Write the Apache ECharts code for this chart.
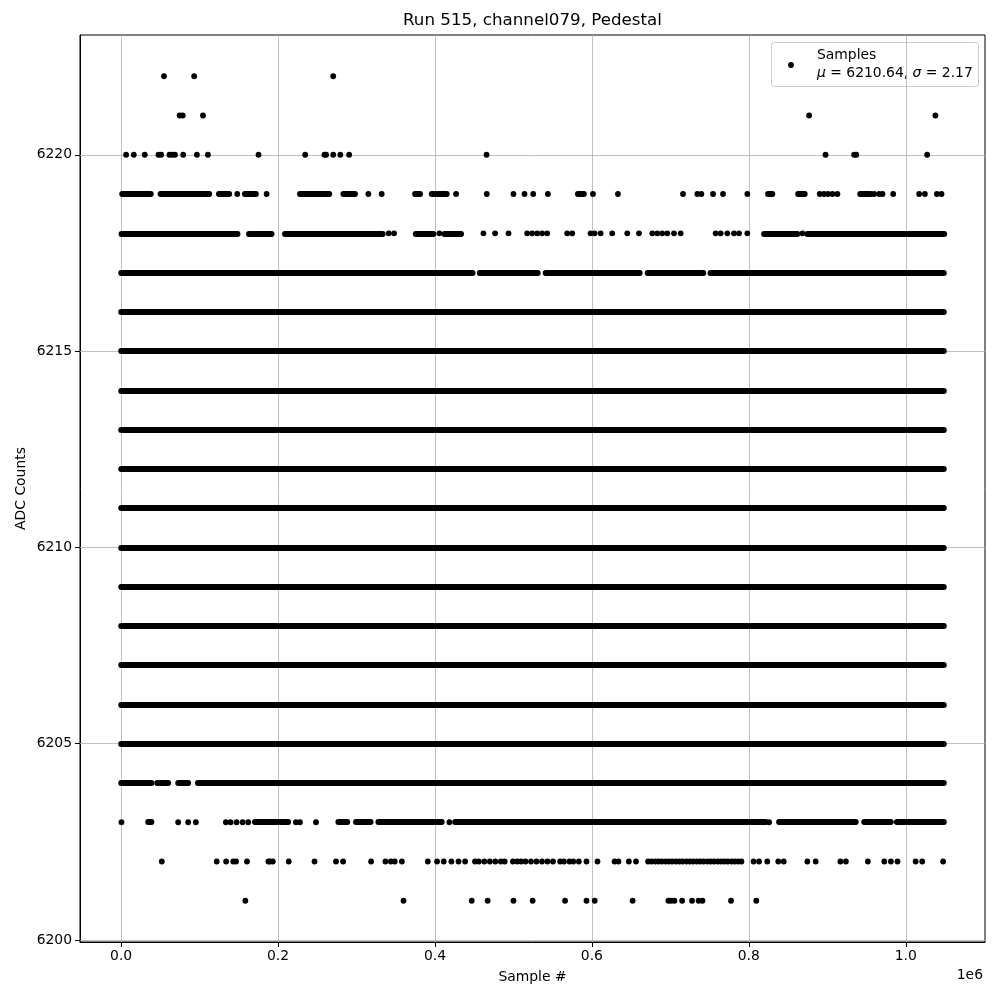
<!DOCTYPE html>
<html><head><meta charset="utf-8">
<script src="https://cdn.jsdelivr.net/npm/echarts@6/dist/echarts.min.js"></script>
<style>html,body{margin:0;padding:0;background:#fff}#chart{width:1000px;height:1000px}</style>
</head><body><div id="chart"></div>
<script>
const titleText = 'Run 515, channel079, Pedestal';
const xLabel = 'Sample #';
const yLabel = 'ADC Counts';
const xOffsetText = '1e6';
const seriesName = 'Samples';
const meanValue = 6210.64;
const sigmaValue = 2.17;
const xTickValues = [0, 200000, 400000, 600000, 800000, 1000000];
const yTickValues = [6200, 6205, 6210, 6215, 6220];
const xRange = [-52429, 1101004];
const yRange = [6199.95, 6223.05];
const lastSample = 1048575;

// ADC levels whose samples cover the whole run
const solidLevels = [6205, 6206, 6207, 6208, 6209, 6210, 6211, 6212, 6213, 6214, 6215, 6216];
// dense stretches [from, to] (sample index) on the partly filled levels
const runs6217 = [[0, 448000], [457000, 531000], [541000, 661000], [671000, 742000], [751000, 1048575]];
const runs6218 = [[400, 148400], [162900, 191800], [208800, 333400], [375500, 398000], [412000, 433300], [819400, 861900], [874700, 1049000]];
const runs6219 = [[1300, 37800], [50200, 112300], [124600, 137800], [157700, 171800], [227900, 265300], [283200, 298100], [374600, 381000], [395900, 415000], [582100, 589800], [824500, 830000], [862800, 871300], [941900, 955500]];
const runs6204 = [[0, 38700], [45900, 60000], [72700, 85500], [97800, 1048575]];
const runs6203 = [[34400, 38700], [170500, 213000], [276800, 288300], [299300, 318000], [327800, 408600], [425600, 821500], [838500, 936300], [947000, 981000], [988600, 1048575]];

// isolated samples per level (sample index)
const pts6222 = [54600, 93100, 270300];
const pts6221 = [74600, 78500, 104300, 876800, 1037800];
const pts6220 = [6300, 16100, 30100, 47600, 51100, 61600, 65100, 68600, 79100, 96600, 110600, 175100, 234600, 259100, 261200, 270300, 279400, 290600, 465700, 897800, 934200, 937000, 1027300];
const pts6219 = [148000, 185400, 315100, 332100, 426900, 466000, 500000, 514100, 525200, 543900, 601300, 633200, 716100, 734400, 739500, 754400, 767100, 798100, 890400, 895900, 901000, 906600, 912900, 959700, 966100, 970400, 984000, 1017100, 1024400, 1039700, 1045600];
const pts6218 = [341000, 347800, 405600, 461800, 476600, 493700, 517500, 523900, 530300, 536600, 543000, 568500, 574900, 598300, 603400, 611100, 625900, 645100, 660000, 677000, 683300, 689700, 696100, 704600, 713100, 757700, 764100, 772600, 781100, 787500, 798100, 868300];
const pts6203 = [400, 72700, 85500, 95200, 133500, 139500, 147100, 154800, 162000, 222800, 227900, 248300, 418400, 825800];
const pts6202 = [51800, 121800, 133800, 142900, 146400, 160400, 187700, 189800, 193300, 213600, 246500, 273800, 282900, 318600, 336800, 343800, 348700, 357800, 390800, 402700, 411100, 420900, 430000, 438400, 451000, 455900, 462900, 469900, 476900, 483900, 488800, 499300, 504900, 509800, 515400, 522400, 529400, 536400, 543400, 550400, 559500, 564400, 571400, 576300, 583300, 593100, 607100, 628900, 633800, 647100, 656200, 671600, 675800, 680700, 684900, 689100, 694000, 698200, 702400, 707300, 711500, 715700, 720600, 724800, 729000, 733900, 738100, 742300, 747200, 751400, 755600, 760500, 764700, 768900, 773100, 778000, 782200, 786400, 790600, 806000, 813000, 823500, 837500, 844500, 874600, 885200, 916700, 923700, 951700, 972700, 981100, 989500, 1012600, 1021000, 1047600];
const pts6201 = [158300, 359900, 446800, 467100, 500000, 524500, 565800, 593100, 603600, 651900, 697500, 701000, 705200, 715000, 727600, 736000, 740900, 777300, 809500];

// ---- build library data ----
const runLines = [];
solidLevels.forEach(v => runLines.push({coords: [[0, v], [lastSample, v]]}));
[[6217, runs6217], [6218, runs6218], [6219, runs6219], [6204, runs6204], [6203, runs6203]].forEach(([v, rs]) => {
  rs.forEach(r => runLines.push({coords: [[r[0], v], [r[1], v]]}));
});
const points = [];
[[6222, pts6222], [6221, pts6221], [6220, pts6220], [6219, pts6219], [6218, pts6218], [6203, pts6203], [6202, pts6202], [6201, pts6201]].forEach(([v, xs]) => {
  xs.forEach(x => points.push([x, v]));
});
const gridLines = [];
xTickValues.forEach(x => gridLines.push({coords: [[x, yRange[0]], [x, yRange[1]]]}));
yTickValues.forEach(y => gridLines.push({coords: [[xRange[0], y], [xRange[1], y]]}));

const FONT = 'DejaVu Sans';
const MS = 5.8;
const chart = echarts.init(document.getElementById('chart'), null, {renderer: 'canvas'});
chart.setOption({
  animation: false,
  backgroundColor: '#ffffff',
  grid: {left: 80, right: 15, top: 35, bottom: 58, show: true, borderColor: '#000', borderWidth: 1, backgroundColor: 'transparent', containLabel: false, outerBoundsMode: 'none'},
  xAxis: {
    type: 'value', min: xRange[0], max: xRange[1],
    axisLine: {show: true, onZero: false, lineStyle: {color: '#000', width: 1}},
    axisTick: {show: true, customValues: xTickValues, length: 5, lineStyle: {color: '#000', width: 1}},
    axisLabel: {show: true, customValues: xTickValues, margin: 7, color: '#000', fontFamily: FONT, fontSize: 13.9,
      formatter: v => (v / 1e6).toFixed(1)},
    splitLine: {show: false}
  },
  yAxis: {
    type: 'value', min: yRange[0], max: yRange[1],
    axisLine: {show: true, onZero: false, lineStyle: {color: '#000', width: 1}},
    axisTick: {show: true, customValues: yTickValues, length: 5, lineStyle: {color: '#000', width: 1}},
    axisLabel: {show: true, customValues: yTickValues, margin: 8, color: '#000', fontFamily: FONT, fontSize: 13.9,
      formatter: v => String(Math.round(v))},
    splitLine: {show: false}
  },
  series: [
    {type: 'lines', coordinateSystem: 'cartesian2d', silent: true, z: 1, data: gridLines,
      lineStyle: {color: '#b0b0b0', width: 0.8, opacity: 1}},
    {type: 'lines', name: seriesName, coordinateSystem: 'cartesian2d', silent: true, z: 2, data: runLines,
      lineStyle: {color: '#000', width: MS, opacity: 1, cap: 'round'}},
    {type: 'scatter', name: seriesName, silent: true, z: 3, data: points, symbol: 'circle', symbolSize: MS,
      itemStyle: {color: '#000', opacity: 1}}
  ],
  graphic: [
    {type: 'text', x: 532.5, y: 21, style: {text: titleText, fontFamily: FONT, fontSize: 16.7, fill: '#000', textAlign: 'center', textVerticalAlign: 'middle'}},
    {type: 'text', x: 532.5, y: 977, style: {text: xLabel, fontFamily: FONT, fontSize: 13.9, fill: '#000', textAlign: 'center', textVerticalAlign: 'middle'}},
    {type: 'text', x: 21, y: 488.5, rotation: Math.PI / 2, style: {text: yLabel, fontFamily: FONT, fontSize: 13.9, fill: '#000', textAlign: 'center', textVerticalAlign: 'middle'}},
    {type: 'text', x: 983, y: 975, style: {text: xOffsetText, fontFamily: FONT, fontSize: 13.9, fill: '#000', textAlign: 'right', textVerticalAlign: 'middle'}},
    {type: 'group', z: 100, children: [
      {type: 'rect', shape: {x: 771.5, y: 42.5, width: 207, height: 44, r: 3}, style: {fill: 'rgba(255,255,255,0.8)', stroke: '#cccccc', lineWidth: 1}},
      {type: 'circle', shape: {cx: 791, cy: 65, r: MS / 2}, style: {fill: '#000'}},
      {type: 'text', x: 817, y: 55.5, style: {text: seriesName, fontFamily: FONT, fontSize: 13.9, fill: '#000', textVerticalAlign: 'middle'}},
      {type: 'text', x: 817, y: 73, style: {
        text: '{i|μ} = ' + meanValue.toFixed(2) + ', {i|σ} = ' + sigmaValue.toFixed(2),
        fontFamily: FONT, fontSize: 13.9, fill: '#000', textVerticalAlign: 'middle',
        rich: {i: {fontStyle: 'italic', fontFamily: FONT, fontSize: 13.9, fill: '#000'}}}}
    ]}
  ]
});
</script></body></html>
